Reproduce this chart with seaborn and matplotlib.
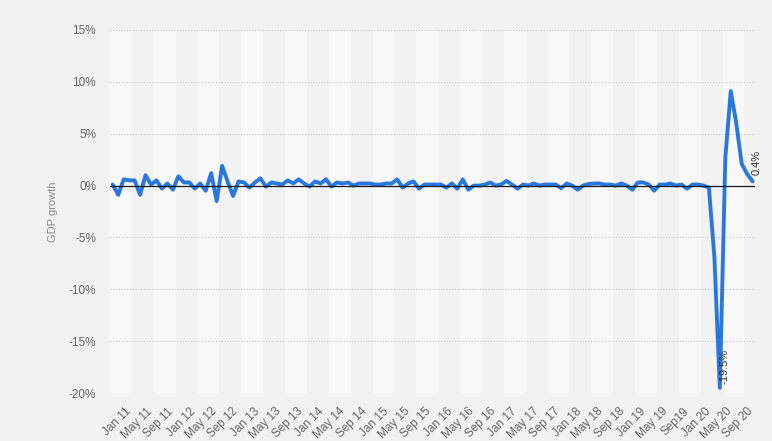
import numpy as np
import pandas as pd
import matplotlib
matplotlib.use("Agg")
import matplotlib.pyplot as plt
import seaborn as sns

# ---- data -------------------------------------------------------------
growth = [
    0.1, -0.9, 0.6, 0.5, 0.5, -0.9, 1.0, 0.1, 0.5, -0.3, 0.2, -0.4,      # 2011
    0.9, 0.3, 0.3, -0.3, 0.2, -0.5, 1.2, -1.5, 1.9, 0.4, -1.0, 0.4,      # 2012
    0.3, -0.2, 0.3, 0.7, -0.1, 0.3, 0.2, 0.1, 0.5, 0.2, 0.6, 0.2,        # 2013
    -0.1, 0.4, 0.2, 0.6, -0.1, 0.3, 0.2, 0.3, 0.0, 0.2, 0.2, 0.2,        # 2014
    0.1, 0.1, 0.2, 0.2, 0.6, -0.2, 0.2, 0.4, -0.3, 0.1, 0.1, 0.1,        # 2015
    0.1, -0.2, 0.2, -0.3, 0.6, -0.4, 0.0, 0.0, 0.1, 0.3, 0.0, 0.1,       # 2016
    0.45, 0.1, -0.3, 0.1, 0.0, 0.2, 0.0, 0.1, 0.1, 0.1, -0.25, 0.2,      # 2017
    0.0, -0.4, 0.0, 0.15, 0.2, 0.2, 0.1, 0.1, 0.0, 0.2, 0.0, -0.4,       # 2018
    0.3, 0.3, 0.1, -0.5, 0.1, 0.1, 0.2, 0.0, 0.1, -0.3, 0.1, 0.1,        # 2019
    0.0, -0.2, -6.9, -19.5, 2.7, 9.1, 6.0, 2.1, 1.1, 0.4,                # 2020
]
month_index = list(range(len(growth)))
tick_labels = [
    "Jan 11", "May 11", "Sep 11", "Jan 12", "May 12", "Sep 12",
    "Jan 13", "May 13", "Sep 13", "Jan 14", "May 14", "Sep 14",
    "Jan 15", "May 15", "Sep 15", "Jan 16", "May 16", "Sep 16",
    "Jan 17", "May 17", "Sep 17", "Jan 18", "May 18", "Sep 18",
    "Jan 19", "May 19", "Sep19", "Jan 20", "May 20", "Sep 20",
]
y_ticks = [15, 10, 5, 0, -5, -10, -15, -20]
annot_min_label = "-19.5%"
annot_last_label = "0.4%"

df = pd.DataFrame({"month": month_index, "growth": growth})

# ---- style ------------------------------------------------------------
sns.set_theme(style="white")
plt.rcParams["font.family"] = ["Liberation Sans", "DejaVu Sans"]

bg = "#f2f2f2"
fig = plt.figure(figsize=(7.72, 4.41), dpi=100, facecolor=bg)
ax = fig.add_axes([0.1425, 0.1088, 0.836, 0.8232])
ax.set_facecolor(bg)

n = len(growth)
# alternating light bands (every 4 months)
for start in range(0, n, 8):
    ax.axvspan(start - 0.5, start + 3.5, color="#f8f8f8", lw=0, zorder=0)

# horizontal dotted grid
for yv in y_ticks:
    if yv != 0:
        ax.axhline(yv, color="#c8c8c8", lw=0.8, ls=(0, (1, 1.5)), zorder=1)

sns.lineplot(data=df, x="month", y="growth", ax=ax, color="#2a78dc",
             linewidth=2.8, zorder=3, solid_joinstyle="round",
             solid_capstyle="round")
ax.axhline(0, color="#1a1a1a", lw=0.9, zorder=4)

ax.set_xlim(-0.5, n - 0.5)
ax.set_ylim(-20, 15)
ax.set_yticks(y_ticks)
ax.set_yticklabels([f"{v}%" for v in y_ticks], fontsize=8.5, color="#666666")
# category labels are spread slightly tighter than the data in the original
label_pos = np.linspace(2.2, n - 2, len(tick_labels))
ax.set_xticks(label_pos)
ax.set_xticklabels(tick_labels, rotation=45, ha="right", rotation_mode="anchor",
                   fontsize=8.5, color="#666666")
ax.tick_params(axis="both", length=0)
ax.tick_params(axis="y", pad=10)
ax.tick_params(axis="x", pad=9)
for s in ax.spines.values():
    s.set_visible(False)

ax.set_xlabel("")
ax.set_ylabel("GDP growth", fontsize=8, color="#888888")
ax.yaxis.set_label_coords(-0.08, 0.5)

imin = int(np.argmin(growth))
ax.annotate(annot_min_label, xy=(imin, growth[imin]), xytext=(3.2, 3),
            textcoords="offset points", rotation=90, rotation_mode="anchor",
            ha="left", va="center", fontsize=8, color="#333333", zorder=5)
ax.annotate(annot_last_label, xy=(n - 1, growth[-1]), xytext=(3, 4.5),
            textcoords="offset points", rotation=90, rotation_mode="anchor",
            ha="left", va="center", fontsize=8, color="#333333", zorder=5)

fig.savefig("out.png", dpi=100, facecolor=bg)
